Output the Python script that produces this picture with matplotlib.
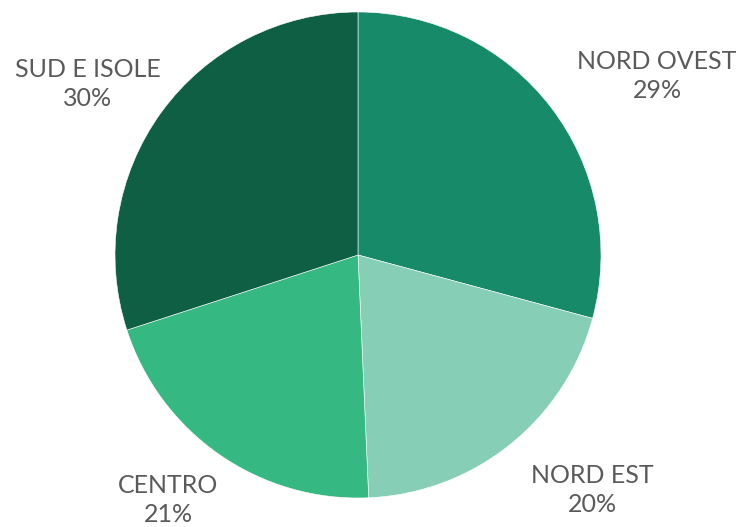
import matplotlib
matplotlib.use("Agg")
import matplotlib.pyplot as plt

regioni = ["NORD OVEST", "NORD EST", "CENTRO", "SUD E ISOLE"]
quote = [29.2, 20.1, 20.7, 30.0]
colori = ["#178A69", "#86CFB6", "#36B883", "#0F5F44"]

plt.rcParams["font.family"] = ["Lato", "DejaVu Sans"]

W, H = 743, 527
fig = plt.figure(figsize=(W / 100, H / 100), dpi=100)
fig.set_facecolor("white")

# centro torta e raggio in pixel
cx, cy, r = 358, 255, 243
ax = fig.add_axes([(cx - r) / W, (H - cy - r) / H, 2 * r / W, 2 * r / H])
ax.pie(quote, colors=colori, startangle=90, counterclock=False, radius=1,
       wedgeprops=dict(edgecolor="white", linewidth=0.4))
ax.set_xlim(-1, 1)
ax.set_ylim(-1, 1)
ax.set_aspect("equal")
ax.axis("off")

# posizioni etichette (pixel, centro del blocco di testo)
pos_etichette = [(657, 76), (592, 490), (168, 500), (88, 84)]
for nome, q, (px, py) in zip(regioni, quote, pos_etichette):
    ax.text((px - cx) / r, (cy - py) / r, f"{nome}\n{q:.0f}%", ha="center", va="center",
            fontsize=18, color="#5a5a5a", linespacing=1.3, clip_on=False)

fig.savefig("out.png", dpi=100, facecolor="white")
